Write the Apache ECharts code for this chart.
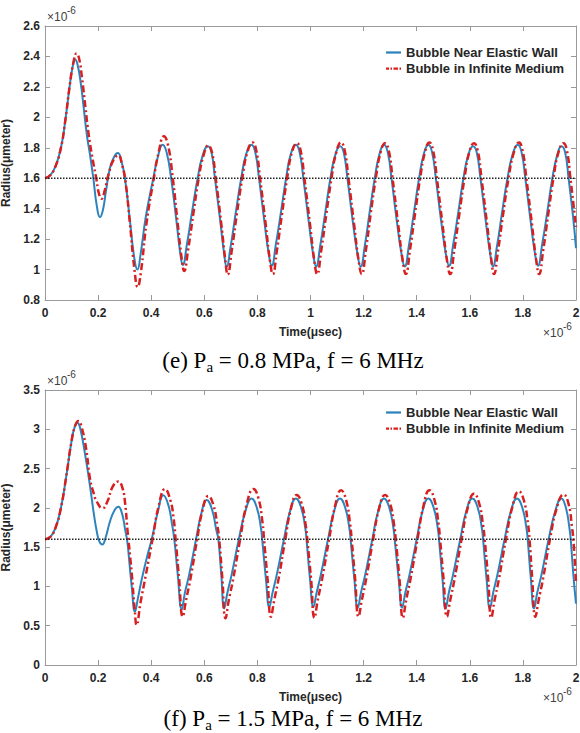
<!DOCTYPE html>
<html><head><meta charset="utf-8">
<script src="https://cdn.jsdelivr.net/npm/echarts@6/dist/echarts.min.js"></script>
<style>
html,body{margin:0;padding:0;background:#fff;}
#wrap{position:relative;width:580px;height:733px;overflow:hidden;}
#chart{position:absolute;left:0;top:0;width:580px;height:733px;}
.cap{position:absolute;left:3px;width:580px;text-align:center;font-family:"Liberation Serif","Times New Roman",serif;font-size:23px;color:#000;line-height:22px;white-space:nowrap;}
.cap sub{font-size:15px;vertical-align:-4px;line-height:0;}
</style></head>
<body>
<div id="wrap">
  <div id="chart"></div>
  <div class="cap" id="capE" style="top:350px;"></div>
  <div class="cap" id="capF" style="top:708px;"></div>
</div>
<script>
// ---------------- data (time in µs ×1e-6 s, radius in µm ×1e-6 m) ----------------
const seriesNames = ['Bubble Near Elastic Wall', 'Bubble in Infinite Medium'];
const equilibriumRadius = 1.6;
const timeRange = [0, 2];
const xTickStep = 0.2;
const yRangeE = [0.8, 2.6], yStepE = 0.2;
const yRangeF = [0, 3.5], yStepF = 0.5;
const captionE = ['(e) P', 'a', ' = 0.8 MPa, f = 6 MHz'];
const captionF = ['(f) P', 'a', ' = 1.5 MPa, f = 6 MHz'];
const xAxisTitle = 'Time(\u03bcsec)';
const yAxisTitle = 'Radius(\u03bcmeter)';
const exponentBase = '\u00d710', exponentPower = '-6';

// (e) Pa = 0.8 MPa — bubble near elastic wall
const wallE = [
[0,1.6],[0.02,1.62],[0.04,1.68],[0.06,1.8],[0.075,1.96],[0.094,2.22],[0.105,2.34],[0.113,2.38],[0.122,2.35],[0.135,2.22],[0.144,2.09],[0.158,1.88],[0.169,1.76],[0.182,1.6],[0.195,1.42],[0.207,1.345],[0.218,1.39],[0.23,1.52],[0.245,1.67],[0.26,1.74],[0.274,1.765],[0.288,1.71],[0.301,1.6],[0.32,1.32],[0.336,1.08],[0.348,1.0],[0.36,1.1],[0.38,1.35],[0.408,1.6],[0.425,1.74],[0.443,1.82],[0.458,1.77],[0.475,1.6],[0.495,1.32],[0.51,1.1],[0.519,1.03],
[0.534,1.16],[0.554,1.38],[0.575,1.6],[0.594,1.75],[0.613,1.81],[0.627,1.77],[0.64,1.6],[0.66,1.32],[0.675,1.1],[0.684,1.02],
[0.699,1.15],[0.719,1.38],[0.739,1.6],[0.758,1.76],[0.778,1.82],[0.792,1.77],[0.806,1.6],[0.826,1.32],[0.843,1.1],[0.854,1.025],
[0.869,1.16],[0.889,1.38],[0.908,1.6],[0.926,1.76],[0.945,1.82],[0.959,1.77],[0.973,1.6],[0.993,1.32],[1.01,1.1],[1.021,1.02],
[1.036,1.15],[1.056,1.38],[1.075,1.6],[1.093,1.75],[1.111,1.81],[1.125,1.77],[1.139,1.6],[1.159,1.32],[1.177,1.1],[1.189,1.02],
[1.204,1.15],[1.223,1.38],[1.242,1.6],[1.26,1.76],[1.277,1.82],[1.291,1.77],[1.305,1.6],[1.325,1.32],[1.343,1.1],[1.355,1.02],
[1.37,1.15],[1.39,1.38],[1.409,1.6],[1.427,1.76],[1.444,1.82],[1.458,1.77],[1.472,1.6],[1.492,1.32],[1.51,1.1],[1.522,1.025],
[1.537,1.16],[1.557,1.38],[1.576,1.6],[1.594,1.75],[1.612,1.81],[1.626,1.77],[1.64,1.6],[1.66,1.32],[1.677,1.1],[1.687,1.02],
[1.702,1.15],[1.722,1.38],[1.742,1.6],[1.762,1.76],[1.781,1.82],[1.795,1.77],[1.809,1.6],[1.829,1.32],[1.846,1.1],[1.857,1.025],
[1.872,1.16],[1.892,1.38],[1.911,1.6],[1.929,1.75],[1.945,1.81],[1.959,1.77],[1.972,1.6],[1.99,1.33],[2.0,1.14]
];
// (e) — bubble in infinite medium
const infE = [
[0,1.6],[0.02,1.62],[0.04,1.68],[0.06,1.8],[0.075,1.96],[0.094,2.22],[0.107,2.36],[0.119,2.42],[0.128,2.39],[0.14,2.25],[0.152,2.07],[0.165,1.88],[0.18,1.72],[0.193,1.6],[0.203,1.5],[0.213,1.465],[0.225,1.52],[0.24,1.63],[0.258,1.72],[0.276,1.75],[0.29,1.69],[0.303,1.58],[0.32,1.3],[0.337,1.0],[0.349,0.885],[0.361,0.98],[0.382,1.3],[0.41,1.6],[0.428,1.77],[0.448,1.875],[0.463,1.82],[0.48,1.62],[0.5,1.3],[0.515,1.07],[0.524,0.99],
[0.539,1.13],[0.559,1.37],[0.579,1.6],[0.597,1.75],[0.615,1.815],[0.629,1.77],[0.643,1.6],[0.664,1.3],[0.68,1.05],[0.688,0.966],
[0.703,1.12],[0.723,1.37],[0.743,1.6],[0.762,1.77],[0.782,1.835],[0.796,1.78],[0.81,1.6],[0.831,1.3],[0.848,1.05],[0.858,0.97],
[0.873,1.12],[0.893,1.37],[0.912,1.6],[0.93,1.77],[0.949,1.83],[0.963,1.78],[0.977,1.6],[0.998,1.3],[1.015,1.05],[1.025,0.97],
[1.04,1.12],[1.06,1.37],[1.079,1.6],[1.097,1.77],[1.115,1.835],[1.129,1.78],[1.143,1.6],[1.164,1.3],[1.182,1.05],[1.193,0.97],
[1.208,1.12],[1.227,1.37],[1.246,1.6],[1.264,1.77],[1.281,1.83],[1.295,1.78],[1.309,1.6],[1.33,1.3],[1.348,1.05],[1.359,0.97],
[1.374,1.12],[1.394,1.37],[1.413,1.6],[1.431,1.77],[1.448,1.835],[1.462,1.78],[1.476,1.6],[1.497,1.3],[1.515,1.05],[1.526,0.97],
[1.541,1.12],[1.561,1.37],[1.58,1.6],[1.598,1.77],[1.616,1.83],[1.63,1.78],[1.644,1.6],[1.665,1.3],[1.682,1.05],[1.691,0.97],
[1.706,1.12],[1.726,1.37],[1.746,1.6],[1.766,1.77],[1.785,1.835],[1.799,1.78],[1.813,1.6],[1.834,1.3],[1.851,1.05],[1.861,0.97],
[1.876,1.12],[1.896,1.37],[1.915,1.6],[1.934,1.77],[1.953,1.83],[1.966,1.78],[1.979,1.6],[2.0,1.28]
];
// (f) Pa = 1.5 MPa — bubble near elastic wall
const wallF = [
[0,1.6],[0.02,1.63],[0.04,1.75],[0.06,2.0],[0.08,2.4],[0.1,2.85],[0.112,3.03],[0.122,3.08],[0.132,3.02],[0.15,2.7],[0.169,2.29],[0.185,1.9],[0.195,1.7],[0.205,1.57],[0.216,1.535],[0.228,1.62],[0.245,1.83],[0.262,1.97],[0.276,2.015],[0.29,1.93],[0.302,1.72],[0.31,1.57],[0.318,1.3],[0.326,1.02],[0.339,0.68],[0.35,0.85],[0.365,1.1],[0.383,1.36],[0.402,1.6],[0.425,1.95],[0.446,2.16],[0.465,2.03],[0.478,1.8],[0.487,1.6],[0.5,1.15],[0.515,0.71],
[0.527,0.92],[0.543,1.15],[0.569,1.6],[0.589,1.93],[0.609,2.1],[0.629,1.98],[0.645,1.72],[0.653,1.6],[0.664,1.15],[0.675,0.72],
[0.687,0.92],[0.703,1.15],[0.73,1.6],[0.755,1.96],[0.778,2.12],[0.798,2.0],[0.813,1.75],[0.818,1.6],[0.832,1.1],[0.845,0.74],
[0.857,0.92],[0.873,1.15],[0.9,1.6],[0.923,1.96],[0.945,2.12],[0.965,2.0],[0.98,1.75],[0.985,1.6],[0.998,1.1],[1.011,0.74],
[1.023,0.92],[1.039,1.15],[1.066,1.6],[1.089,1.96],[1.111,2.12],[1.131,2.0],[1.146,1.75],[1.151,1.6],[1.165,1.1],[1.178,0.73],
[1.19,0.92],[1.206,1.15],[1.233,1.6],[1.255,1.96],[1.277,2.12],[1.297,2.0],[1.312,1.75],[1.317,1.6],[1.332,1.1],[1.345,0.73],
[1.357,0.92],[1.373,1.15],[1.4,1.6],[1.422,1.96],[1.444,2.12],[1.464,2.0],[1.479,1.75],[1.484,1.6],[1.497,1.1],[1.509,0.72],
[1.521,0.92],[1.537,1.15],[1.564,1.6],[1.587,1.96],[1.61,2.12],[1.63,2.0],[1.645,1.75],[1.65,1.6],[1.663,1.1],[1.676,0.72],
[1.688,0.92],[1.704,1.15],[1.731,1.6],[1.755,1.96],[1.778,2.12],[1.798,2.0],[1.813,1.75],[1.818,1.6],[1.83,1.1],[1.842,0.72],
[1.854,0.92],[1.87,1.15],[1.897,1.6],[1.922,1.96],[1.945,2.12],[1.962,2.0],[1.975,1.75],[1.98,1.6],[1.99,1.15],[2.0,0.78]
];
// (f) — bubble in infinite medium
const infF = [
[0,1.6],[0.02,1.63],[0.04,1.75],[0.06,2.0],[0.08,2.4],[0.1,2.85],[0.114,3.05],[0.126,3.105],[0.137,3.04],[0.155,2.75],[0.169,2.38],[0.182,2.2],[0.195,2.08],[0.217,1.995],[0.235,2.08],[0.255,2.27],[0.276,2.335],[0.292,2.25],[0.302,2.05],[0.31,1.74],[0.326,1.19],[0.338,0.7],[0.345,0.51],[0.36,0.8],[0.38,1.15],[0.405,1.6],[0.428,2.02],[0.452,2.24],[0.472,2.1],[0.485,1.85],[0.492,1.6],[0.505,1.1],[0.519,0.615],
[0.531,0.82],[0.548,1.1],[0.573,1.6],[0.594,1.98],[0.615,2.15],[0.634,2.04],[0.649,1.78],[0.656,1.6],[0.668,1.1],[0.68,0.594],
[0.692,0.82],[0.709,1.1],[0.735,1.6],[0.76,2.05],[0.785,2.24],[0.804,2.12],[0.819,1.82],[0.825,1.6],[0.838,1.1],[0.851,0.615],
[0.863,0.82],[0.88,1.1],[0.905,1.6],[0.927,2.0],[0.948,2.165],[0.967,2.05],[0.982,1.78],[0.988,1.6],[1.002,1.1],[1.015,0.6],
[1.027,0.82],[1.044,1.1],[1.07,1.6],[1.093,2.03],[1.115,2.225],[1.134,2.1],[1.149,1.8],[1.155,1.6],[1.168,1.1],[1.181,0.615],
[1.193,0.82],[1.21,1.1],[1.236,1.6],[1.259,2.0],[1.281,2.165],[1.3,2.05],[1.315,1.78],[1.321,1.6],[1.335,1.1],[1.348,0.6],
[1.36,0.82],[1.377,1.1],[1.403,1.6],[1.426,2.03],[1.448,2.225],[1.467,2.1],[1.482,1.8],[1.488,1.6],[1.501,1.1],[1.514,0.615],
[1.526,0.82],[1.543,1.1],[1.569,1.6],[1.593,2.01],[1.616,2.18],[1.635,2.06],[1.65,1.78],[1.656,1.6],[1.669,1.1],[1.681,0.6],
[1.693,0.82],[1.71,1.1],[1.736,1.6],[1.761,2.02],[1.785,2.21],[1.804,2.09],[1.819,1.8],[1.825,1.6],[1.835,1.1],[1.847,0.615],
[1.859,0.82],[1.876,1.1],[1.902,1.6],[1.928,2.0],[1.953,2.17],[1.972,2.05],[1.985,1.75],[1.99,1.6],[2.0,1.05]
];

// ---------------- captions (HTML text) ----------------
function setCap(id, parts){
  const el = document.getElementById(id);
  el.appendChild(document.createTextNode(parts[0]));
  const s = document.createElement('sub'); s.textContent = parts[1]; el.appendChild(s);
  el.appendChild(document.createTextNode(parts[2]));
}
setCap('capE', captionE);
setCap('capF', captionF);

// ---------------- chart ----------------
const SANS = '"Liberation Sans", Arial, Helvetica, sans-serif';
const C_WALL = '#2d84bd', C_INF = '#d81f1f', C_AXIS = '#9a9a9a', C_TXT = '#262626';
const fmt = v => String(+v.toFixed(1));
const ICON_SOLID = 'path://M0,0H20V3H0Z';
const ICON_DASHDOT = 'path://M0,0H4V3H0Z M6,0H8V3H6Z M10,0H16V3H10Z M18,0H20V3H18Z';

function xAxes(g){
  const base = {type:'value', gridIndex:g, min:timeRange[0], max:timeRange[1], interval:xTickStep,
    axisLine:{show:true, onZero:false, lineStyle:{color:C_AXIS, width:1}},
    axisTick:{show:true, inside:true, length:5, lineStyle:{color:C_AXIS}},
    splitLine:{show:false}};
  return [
    Object.assign({}, base, {position:'bottom',
      axisLabel:{color:C_TXT, fontWeight:'bold', fontSize:12, fontFamily:SANS, margin:7, formatter:fmt},
      name:xAxisTitle, nameLocation:'middle', nameGap:26,
      nameTextStyle:{color:C_TXT, fontWeight:'bold', fontSize:12, fontFamily:SANS}}),
    Object.assign({}, base, {position:'top', axisLabel:{show:false}})
  ];
}
function yAxes(g, range, step){
  const base = {type:'value', gridIndex:g, min:range[0], max:range[1], interval:step,
    axisLine:{show:true, onZero:false, lineStyle:{color:C_AXIS, width:1}},
    axisTick:{show:true, inside:true, length:5, lineStyle:{color:C_AXIS}},
    splitLine:{show:false}};
  return [
    Object.assign({}, base, {position:'left',
      axisLabel:{color:C_TXT, fontWeight:'bold', fontSize:12, fontFamily:SANS, margin:5, formatter:fmt},
      name:yAxisTitle, nameLocation:'middle', nameGap:20,
      nameTextStyle:{color:C_TXT, fontWeight:'bold', fontSize:12, fontFamily:SANS}}),
    Object.assign({}, base, {position:'right', axisLabel:{show:false}})
  ];
}
function lineSeries(name, data, xi, yi, color, width, type, z){
  return {type:'line', name:name, data:data, xAxisIndex:xi, yAxisIndex:yi,
    symbol:'none', showSymbol:false, smooth:0.5, z:z,
    lineStyle:{color:color, width:width, type:type}, itemStyle:{color:color},
    emphasis:{disabled:true}, silent:true};
}
function refLine(xi, yi){
  return {type:'line', name:'ref', data:[[timeRange[0], equilibriumRadius],[timeRange[1], equilibriumRadius]],
    xAxisIndex:xi, yAxisIndex:yi, symbol:'none', z:5, silent:true,
    lineStyle:{color:'#222', width:1.5, type:[1.5,1.5]}};
}
function legendAt(top){
  return {top:top, left:386, orient:'vertical', itemWidth:15, itemHeight:2.5, itemGap:3, padding:0,
    selectedMode:false,
    data:[{name:seriesNames[0], icon:ICON_SOLID, itemStyle:{color:C_WALL}},
          {name:seriesNames[1], icon:ICON_DASHDOT, itemStyle:{color:C_INF}}],
    textStyle:{color:C_TXT, fontWeight:'bold', fontSize:13, fontFamily:SANS, lineHeight:13}};
}
function expo(left, top){
  return [
    {type:'text', left:left, top:top, silent:true, style:{text:exponentBase, fill:'#404040', font:'12px ' + SANS}},
    {type:'text', left:left+20, top:top-6, silent:true, style:{text:exponentPower, fill:'#404040', font:'10px ' + SANS}}
  ];
}

const chart = echarts.init(document.getElementById('chart'), null, {renderer:'svg'});
chart.setOption({
  animation:false,
  backgroundColor:'#fff',
  grid:[
    {left:45, top:26, width:531, height:274, outerBoundsMode:'none'},
    {left:45, top:390, width:531, height:275, outerBoundsMode:'none'}
  ],
  xAxis:[...xAxes(0), ...xAxes(1)],
  yAxis:[...yAxes(0, yRangeE, yStepE), ...yAxes(1, yRangeF, yStepF)],
  legend:[legendAt(46), legendAt(406)],
  graphic:[...expo(47, 11), ...expo(543, 327), ...expo(47, 375), ...expo(543, 692)],
  series:[
    lineSeries(seriesNames[0], wallE, 0, 0, C_WALL, 2, 'solid', 2),
    lineSeries(seriesNames[1], infE, 0, 0, C_INF, 2.5, [7,3,2,3], 3),
    refLine(0, 0),
    lineSeries(seriesNames[0], wallF, 2, 2, C_WALL, 2, 'solid', 2),
    lineSeries(seriesNames[1], infF, 2, 2, C_INF, 2.5, [7,3,2,3], 3),
    refLine(2, 2)
  ]
});
</script>
</body></html>
